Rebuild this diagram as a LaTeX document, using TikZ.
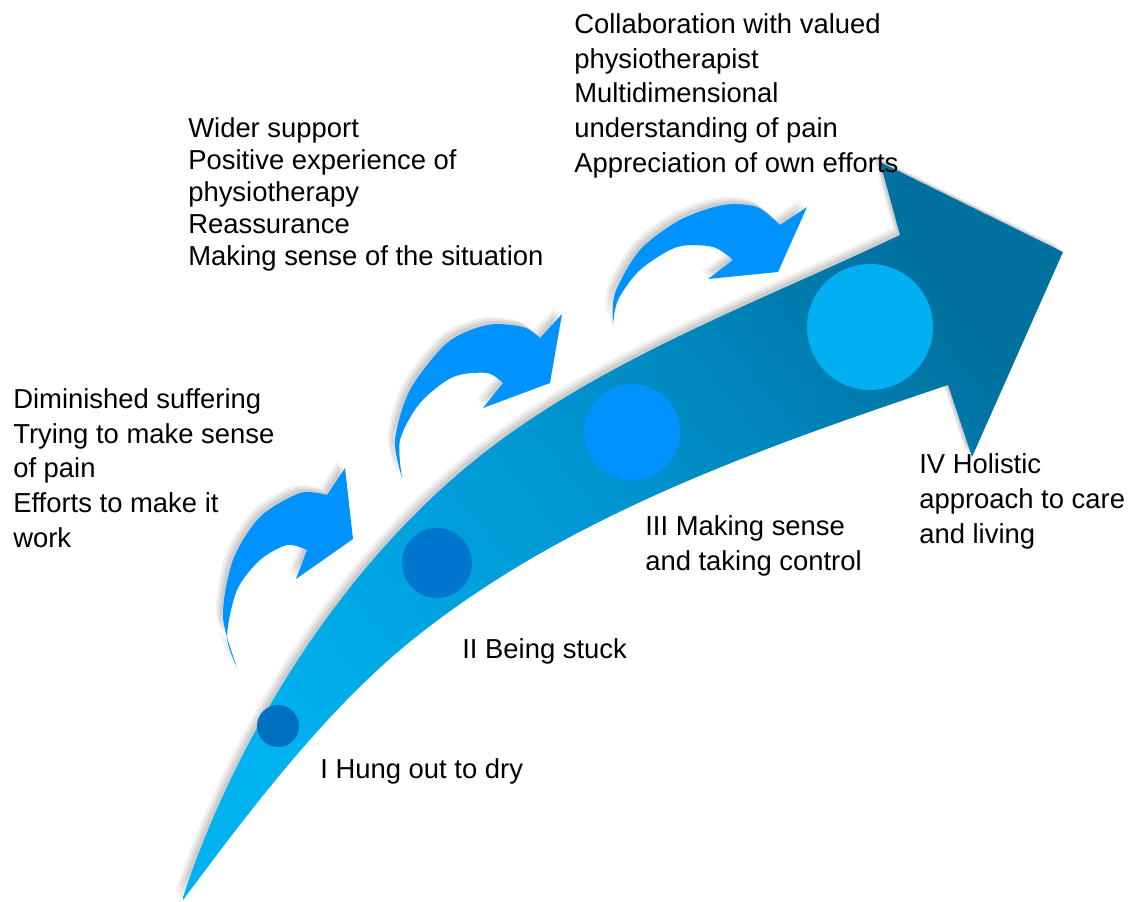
\documentclass[tikz,border=0pt]{standalone}
\usepackage{fontspec}
\setmainfont{Liberation Sans}

\definecolor{bandlight}{RGB}{0,178,240}
\definecolor{bandmid}{RGB}{0,150,210}
\definecolor{banddark}{RGB}{0,112,158}
\definecolor{bendblue}{RGB}{0,146,255}
\definecolor{dotone}{RGB}{0,112,192}
\definecolor{dottwo}{RGB}{0,119,206}
\definecolor{dotthree}{RGB}{0,146,255}
\definecolor{dotfour}{RGB}{0,176,240}

\begin{document}
\begin{tikzpicture}[
				x=0.025cm,y=-0.025cm,
				soft shadow/.style={
					preaction={fill=black,opacity=0.06,transform canvas={xshift=-5pt,yshift=5pt}},
					preaction={fill=black,opacity=0.07,transform canvas={xshift=-3.5pt,yshift=3.5pt}},
					preaction={fill=black,opacity=0.08,transform canvas={xshift=-2pt,yshift=2pt}}},
				stage text/.style={font=\fontsize{19.5}{24.6}\selectfont,align=left,inner sep=0,anchor=base west}]
			\tikzstyle{bend arrow}=[soft shadow,fill=bendblue]
			\useasboundingbox[fill=white] (0,0) rectangle (1129,901);
			\path[soft shadow,top color=banddark,bottom color=bandlight,middle color=bandmid,shading angle=-51.5]
				(183,897) .. controls (225,770) and (309,612) .. (437,493)
				.. controls (566,372) and (740,311) .. (900,235)
				-- (880,162) -- (1063,252) -- (972,457) -- (948,385)
				.. controls (755,450) and (555,520) .. (400,650)
				.. controls (320,718) and (250,810) .. (183,900)
				-- cycle;
			\fill[dotone] (278,726) circle (21);
			\fill[dottwo] (437,563) circle (35);
			\fill[dotthree] (632,432) circle (48);
			\fill[dotfour] (870,327) circle (63);
			\fill[bend arrow] (237,667)
				-- plot[smooth] coordinates {(237,667) (223,617) (233,560) (260,517) (300,493) (327,495)}
				-- (345,468) -- (353,539) -- (296,579) -- (307,550)
				-- plot[smooth] coordinates {(307,550) (287,545) (260,560) (237,590) (227,637) (237,667)}
				-- cycle;
			\fill[bend arrow] (402,478)
				-- plot[smooth] coordinates {(402,478) (395,440) (410,390) (447,343) (487,325) (523,327) (540,338)}
				-- (562,314) -- (550,383) -- (483,408) -- (503,383)
				-- plot[smooth] coordinates {(503,383) (487,373) (453,377) (420,403) (400,440) (402,478)}
				-- cycle;
			\fill[bend arrow] (613,325)
				-- plot[smooth] coordinates {(613,325) (615,293) (640,250) (680,220) (723,205) (757,207) (780,225)}
				-- (807,207) -- (778,272) -- (708,279) -- (733,260)
				-- plot[smooth] coordinates {(733,260) (713,247) (677,247) (640,270) (618,300) (613,325)}
				-- cycle;
			\node[stage text] (gainone) at (13,547) {Diminished suffering\\Trying to make sense\\of pain\\Efforts to make it\\work};
			\node[stage text,font=\fontsize{19.5}{22.7}\selectfont] (gaintwo) at (188,265) {Wider support\\Positive experience of\\physiotherapy\\Reassurance\\Making sense of the situation};
			\node[stage text] (gainthree) at (574,172) {Collaboration with valued\\physiotherapist\\Multidimensional\\understanding of pain\\Appreciation of own efforts};
			\node[stage text] (stageone) at (320,778) {I Hung out to dry};
			\node[stage text] (stagetwo) at (462,658) {II Being stuck};
			\node[stage text] (stagethree) at (645,570) {III Making sense\\and taking control};
			\node[stage text] (stagefour) at (919,543) {IV Holistic\\approach to care\\and living};
		\end{tikzpicture}
\end{document}
